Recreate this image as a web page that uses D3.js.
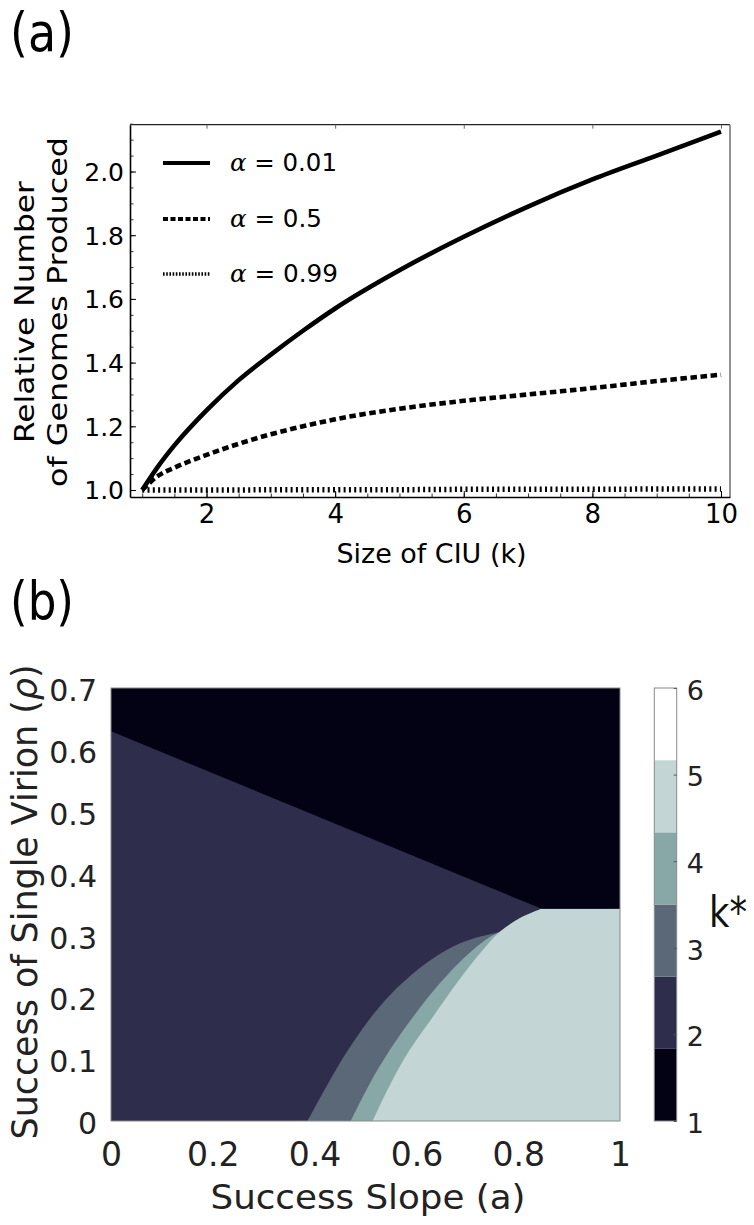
<!DOCTYPE html>
<html><head><meta charset="utf-8">
<script src="https://cdn.jsdelivr.net/npm/d3@7/dist/d3.min.js"></script>
<style>body{margin:0;background:#fff}svg{display:block}</style>
</head><body><svg id="c" width="754" height="1225"></svg>
<script>
// ---------- Panel (a) data ----------
const kValues  = [1, 1.25, 1.5, 2, 2.5, 3, 3.5, 4, 5, 6, 7, 8, 9, 10];
const alpha001 = [1.0, 1.075, 1.14, 1.25, 1.345, 1.425, 1.50, 1.57, 1.69, 1.795, 1.89, 1.975, 2.05, 2.125];
const alpha05  = [1.0, 1.045, 1.07, 1.11, 1.145, 1.175, 1.20, 1.222, 1.255, 1.28, 1.30, 1.32, 1.342, 1.362];
const alpha099 = [1.0, 1.0, 1.0, 1.0, 1.0, 1.001, 1.001, 1.001, 1.001, 1.002, 1.002, 1.002, 1.003, 1.003];
const legendLabels = ["0.01", "0.5", "0.99"];
const yTicksA = [1.0, 1.2, 1.4, 1.6, 1.8, 2.0];
const xTicksA = [2, 4, 6, 8, 10];

// ---------- Panel (b) data ----------
const blackEdge = [[0, 0.63], [0.846, 0.343], [1, 0.343]];
const edge2to3 = [[0.386,0],[0.426,0.06],[0.466,0.115],[0.502,0.158],[0.528,0.185],[0.561,0.2145],[0.594,0.239],[0.633,0.263],[0.672,0.282],[0.712,0.295],[0.751,0.303],[0.764,0.306]];
const edge3to4 = [[0.471,0],[0.508,0.06],[0.548,0.115],[0.594,0.169],[0.646,0.2226],[0.699,0.268],[0.745,0.298],[0.764,0.306]];
const edge4to5 = [[0.514,0],[0.549,0.06],[0.587,0.115],[0.633,0.169],[0.679,0.2226],[0.725,0.271],[0.764,0.306],[0.804,0.328],[0.846,0.343]];
const upperTail = [[0.804,0.328],[0.846,0.343]];
const kStarLevels = [1, 2, 3, 4, 5, 6];
const kStarColors = ["#030214", "#2e2d4b", "#5b6878", "#87a8a6", "#c3d5d5", "#ffffff"];
const bandEdges = [1, 1.8333, 2.6667, 3.5, 4.3333, 5.1667, 6];
const xTicksB = [0, 0.2, 0.4, 0.6, 0.8, 1];
const yTicksB = [0, 0.1, 0.2, 0.3, 0.4, 0.5, 0.6, 0.7];

const svg = d3.select("#c");
const FONT = "DejaVu Sans";

// ================= Panel (a) =================
const xA = d3.scaleLinear().domain([0.81, 10.14]).range([130, 730]);
const yA = d3.scaleLinear().domain([0.978, 2.147]).range([497, 124.7]);

svg.append("text").attr("x", 10).attr("y", 51).attr("font-family", FONT)
  .attr("font-size", 54).attr("textLength", 64).attr("lengthAdjust", "spacingAndGlyphs")
  .attr("fill", "#000").text("(a)");

// frame
svg.append("line").attr("x1", 130).attr("x2", 730).attr("y1", 124.7).attr("y2", 124.7).attr("stroke", "#222").attr("stroke-width", 1.2);
svg.append("line").attr("x1", 730).attr("x2", 730).attr("y1", 124.7).attr("y2", 497).attr("stroke", "#888").attr("stroke-width", 1.8);

// minor ticks
const gA = svg.append("g");
gA.append("g").attr("transform", "translate(130,0)")
  .call(d3.axisLeft(yA).tickValues(d3.range(1.0, 2.151, 0.05)).tickSize(-3.5).tickFormat(""))
  .call(g => { g.select(".domain").remove(); g.selectAll("line").attr("stroke", "#333"); });
gA.append("g").attr("transform", "translate(0,497)")
  .call(d3.axisBottom(xA).tickValues(d3.range(1, 10.01, 0.5)).tickSize(-3.5).tickFormat(""))
  .call(g => { g.select(".domain").remove(); g.selectAll("line").attr("stroke", "#333"); });
gA.append("g").attr("transform", "translate(0,124.7)")
  .call(d3.axisTop(xA).tickValues(xTicksA).tickSize(-4).tickFormat(""))
  .call(g => { g.select(".domain").remove(); g.selectAll("line").attr("stroke", "#666"); });

// major axes
gA.append("g").attr("transform", "translate(130,0)")
  .call(d3.axisLeft(yA).tickValues(yTicksA).tickFormat(d3.format(".1f")).tickSizeInner(-6).tickSizeOuter(0).tickPadding(6))
  .call(g => {
    g.select(".domain").attr("stroke", "#000").attr("stroke-width", 1.6);
    g.selectAll("line").attr("stroke", "#000");
    g.selectAll("text").attr("font-family", FONT).attr("font-size", 25).attr("fill", "#000").attr("dy", "0.36em");
  });
gA.append("g").attr("transform", "translate(0,497)")
  .call(d3.axisBottom(xA).tickValues(xTicksA).tickSizeInner(-6).tickSizeOuter(0).tickPadding(8))
  .call(g => {
    g.select(".domain").attr("stroke", "#000").attr("stroke-width", 1.6);
    g.selectAll("line").attr("stroke", "#000");
    g.selectAll("text").attr("font-family", FONT).attr("font-size", 26).attr("fill", "#000");
  });

// axis titles
svg.append("text").attr("x", 431.5).attr("y", 563).attr("text-anchor", "middle")
  .attr("font-family", FONT).attr("font-size", 26).attr("textLength", 190).attr("lengthAdjust", "spacingAndGlyphs")
  .text("Size of CIU (k)");
svg.append("text").attr("transform", "translate(34,312) rotate(-90)").attr("text-anchor", "middle")
  .attr("font-family", FONT).attr("font-size", 27).attr("textLength", 262).attr("lengthAdjust", "spacingAndGlyphs")
  .text("Relative Number");
svg.append("text").attr("transform", "translate(67,312) rotate(-90)").attr("text-anchor", "middle")
  .attr("font-family", FONT).attr("font-size", 27).attr("textLength", 350).attr("lengthAdjust", "spacingAndGlyphs")
  .text("of Genomes Produced");

// curves
const seriesA = [alpha001, alpha05, alpha099];
const styles = [
  { dash: null, w: 4.6 },
  { dash: "6.5,3.6", w: 4.6 },
  { dash: "2,3.3", w: 5.5 }
];
const lineA = d3.line().x(d => xA(d[0])).y(d => yA(d[1])).curve(d3.curveMonotoneX);
seriesA.forEach((vals, i) => {
  svg.append("path").datum(kValues.map((k, j) => [k, vals[j]]))
    .attr("d", lineA).attr("fill", "none").attr("stroke", "#000")
    .attr("stroke-width", styles[i].w).attr("stroke-dasharray", styles[i].dash);
});

// legend
const legY = [163, 219, 274];
const legLens = [107, 92, 108];
const legStyles = [{ dash: null, w: 4 }, { dash: "5,2.5", w: 4 }, { dash: "1.6,1.6", w: 3.4 }];
legendLabels.forEach((lab, i) => {
  svg.append("line").attr("x1", 163).attr("x2", 210).attr("y1", legY[i]).attr("y2", legY[i])
    .attr("stroke", "#000").attr("stroke-width", legStyles[i].w).attr("stroke-dasharray", legStyles[i].dash);
  const t = svg.append("text").attr("x", 230).attr("y", legY[i] + 8)
    .attr("font-family", FONT).attr("font-size", 24).attr("textLength", legLens[i]).attr("lengthAdjust", "spacingAndGlyphs");
  t.append("tspan").attr("font-style", "italic").attr("font-family", "DejaVu Serif").text("α");
  t.append("tspan").text(" = " + lab);
});

// ================= Panel (b) =================
svg.append("text").attr("x", 10).attr("y", 620).attr("font-family", FONT)
  .attr("font-size", 54).attr("textLength", 64).attr("lengthAdjust", "spacingAndGlyphs")
  .attr("fill", "#000").text("(b)");

const xB = d3.scaleLinear().domain([0, 1]).range([111, 620]);
const yB = d3.scaleLinear().domain([0, 0.7]).range([1121, 688]);
const colorOf = d3.scaleOrdinal().domain(kStarLevels).range(kStarColors);

// base (k*=2)
svg.append("rect").attr("x", xB(0)).attr("y", yB(0.7)).attr("width", xB(1) - xB(0)).attr("height", yB(0) - yB(0.7))
  .attr("fill", colorOf(2));

const curve = d3.line().x(d => xB(d[0])).y(d => yB(d[1])).curve(d3.curveCatmullRom.alpha(0.5));
const pt = d => `${xB(d[0])},${yB(d[1])}`;
function region(edge, closing) {
  return curve(edge) + closing.map(p => "L" + pt(p)).join("") + "Z";
}
const rightClose = [[1, 0.343], [1, 0]];
svg.append("path").attr("d", region(edge2to3.concat(upperTail), rightClose)).attr("fill", colorOf(3));
svg.append("path").attr("d", region(edge3to4.concat(upperTail), rightClose)).attr("fill", colorOf(4));
svg.append("path").attr("d", region(edge4to5, rightClose)).attr("fill", colorOf(5));
svg.append("path").attr("d", "M" + pt([0, 0.7]) + blackEdge.map(p => "L" + pt(p)).join("") + "L" + pt([1, 0.7]) + "Z")
  .attr("fill", colorOf(1));

svg.append("rect").attr("x", xB(0)).attr("y", yB(0.7)).attr("width", xB(1) - xB(0)).attr("height", yB(0) - yB(0.7))
  .attr("fill", "none").attr("stroke", "#8a8a8a").attr("stroke-width", 1);

// axes (labels only)
svg.append("g").attr("transform", "translate(0,1121)")
  .call(d3.axisBottom(xB).tickValues(xTicksB).tickFormat(d => d === 0 ? "0" : d === 1 ? "1" : d3.format(".1f")(d)).tickSize(0).tickPadding(22))
  .call(g => {
    g.select(".domain").remove();
    g.selectAll("text").attr("font-family", FONT).attr("font-size", 33).attr("fill", "#222");
  });
svg.append("g").attr("transform", "translate(111,0)")
  .call(d3.axisLeft(yB).tickValues(yTicksB).tickFormat(d => d === 0 ? "0" : d3.format(".1f")(d)).tickSize(0).tickPadding(14))
  .call(g => {
    g.select(".domain").remove();
    g.selectAll("text").attr("font-family", FONT).attr("font-size", 30).attr("fill", "#222").attr("dy", "0.42em");
  });

svg.append("text").attr("x", 368).attr("y", 1209).attr("text-anchor", "middle")
  .attr("font-family", FONT).attr("font-size", 33).attr("fill", "#222")
  .attr("textLength", 315).attr("lengthAdjust", "spacingAndGlyphs").text("Success Slope (a)");
const yt = svg.append("text").attr("transform", "translate(37,902) rotate(-90)").attr("text-anchor", "middle")
  .attr("font-family", FONT).attr("font-size", 35).attr("fill", "#222")
  .attr("textLength", 475).attr("lengthAdjust", "spacingAndGlyphs");
yt.append("tspan").text("Success of Single Virion (");
yt.append("tspan").attr("font-style", "italic").text("ρ");
yt.append("tspan").text(")");

// colour bar
const cbX = 654.3, cbW = 22.4;
const yC = d3.scaleLinear().domain([1, 6]).range([1121, 688]);
svg.append("g").selectAll("rect").data(kStarLevels).join("rect")
  .attr("x", cbX).attr("width", cbW)
  .attr("y", (d, i) => yC(bandEdges[i + 1]))
  .attr("height", (d, i) => yC(bandEdges[i]) - yC(bandEdges[i + 1]))
  .attr("fill", d => colorOf(d));
svg.append("rect").attr("x", cbX).attr("y", yC(6)).attr("width", cbW).attr("height", yC(1) - yC(6))
  .attr("fill", "none").attr("stroke", "#8a8a8a").attr("stroke-width", 1);
svg.append("g").attr("transform", `translate(${cbX + cbW},0)`)
  .call(d3.axisRight(yC).tickValues(kStarLevels).tickFormat(d3.format("d")).tickSizeInner(-3).tickSizeOuter(0).tickPadding(10))
  .call(g => {
    g.select(".domain").remove();
    g.selectAll("line").attr("stroke", "#555");
    g.selectAll("text").attr("font-family", FONT).attr("font-size", 27).attr("fill", "#222").attr("dy", "0.42em");
  });
svg.append("text").attr("x", 709).attr("y", 927).attr("font-family", FONT).attr("font-size", 42)
  .attr("fill", "#111").attr("textLength", 38).attr("lengthAdjust", "spacingAndGlyphs").text("k*");
</script></body></html>
